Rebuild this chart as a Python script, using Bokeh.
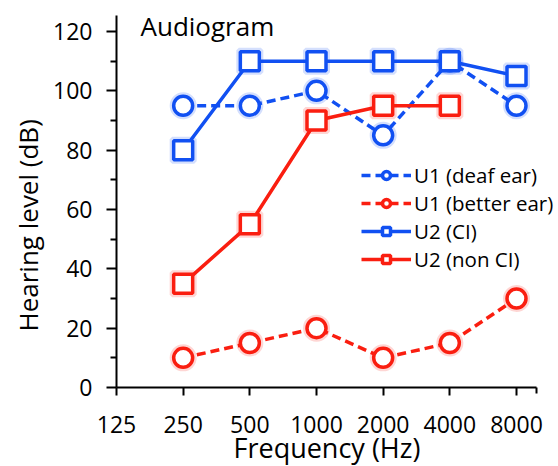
from bokeh.plotting import figure
from bokeh.models import FixedTicker, Legend, LegendItem, Range1d, Label, Title
from bokeh.embed import file_html
from bokeh.resources import INLINE

freqs = [250, 500, 1000, 2000, 4000, 8000]
tick_freqs = [125, 250, 500, 1000, 2000, 4000, 8000]
u1_deaf = [95, 95, 100, 85, 110, 95]
u1_better = [10, 15, 20, 10, 15, 30]
u2_ci = [80, 110, 110, 110, 110, 105]
freqs_nonci = [250, 500, 1000, 2000, 4000]
u2_nonci = [35, 55, 90, 95, 95]
y_ticks = [0, 20, 40, 60, 80, 100, 120]
y_minor = [10, 30, 50, 70, 90, 110]

BLUE = "#1150f2"
RED = "#fa1e10"
FONT = "Open Sans"

X_AXIS_END = 125 * 2 ** 6.3
X_RANGE_END = 125 * 2 ** 6.63

p = figure(width=558, height=466, output_backend="svg", toolbar_location=None,
           x_axis_type="log", x_range=Range1d(125, X_RANGE_END),
           y_range=Range1d(0, 125.4),
           min_border_left=116, min_border_right=0, min_border_top=15, min_border_bottom=79)
p.outline_line_color = None
p.xgrid.visible = False
p.ygrid.visible = False
p.background_fill_color = "white"
p.border_fill_color = "white"

p.xaxis.ticker = FixedTicker(ticks=tick_freqs, minor_ticks=[X_AXIS_END])
p.xaxis.bounds = (125, X_AXIS_END)
p.xaxis.major_label_overrides = {f: str(f) for f in tick_freqs}
p.yaxis.ticker = FixedTicker(ticks=y_ticks, minor_ticks=y_minor)

for ax in (p.xaxis, p.yaxis):
    ax.axis_line_width = 2
    ax.axis_line_color = "black"
    ax.major_tick_line_width = 2
    ax.minor_tick_line_width = 2
    ax.major_tick_line_color = "black"
    ax.minor_tick_line_color = "black"
    ax.major_tick_in = 0
    ax.minor_tick_in = 0
    ax.minor_tick_out = 6
    ax.major_label_text_font = FONT
    ax.major_label_text_font_size = "23px"
    ax.major_label_text_color = "black"

p.xaxis.major_tick_out = 8
p.yaxis.major_tick_out = 10
p.xaxis.major_label_standoff = 20
p.yaxis.major_label_standoff = 14

xlab = Title(text="Frequency (Hz)", align="left", offset=117, standoff=-18,
             text_font=FONT, text_font_size="27px", text_font_style="normal",
             text_color="black")
p.add_layout(xlab, "below")
ylab = Title(text="Hearing level (dB)", align="left", offset=56, standoff=9,
             text_font=FONT, text_font_size="26px", text_font_style="normal",
             text_color="black")
p.add_layout(ylab, "left")

DASH = "9 5"
LW = 3.5
MS = 19


def halo(x, y, marker, color):
    p.scatter(x, y, marker=marker, size=MS + 3, line_color=color, fill_color=None,
              line_width=5, line_alpha=0.18)


r1l = p.line(freqs, u1_deaf, color=BLUE, line_width=LW, line_dash=DASH)
halo(freqs, u1_deaf, "circle", BLUE)
r1m = p.scatter(freqs, u1_deaf, marker="circle", size=MS, line_color=BLUE, fill_color="white", line_width=3.5)
r2l = p.line(freqs, u1_better, color=RED, line_width=LW, line_dash=DASH)
halo(freqs, u1_better, "circle", RED)
r2m = p.scatter(freqs, u1_better, marker="circle", size=MS, line_color=RED, fill_color="white", line_width=3.5)
r3l = p.line(freqs, u2_ci, color=BLUE, line_width=LW)
halo(freqs, u2_ci, "square", BLUE)
r3m = p.scatter(freqs, u2_ci, marker="square", size=MS, line_color=BLUE, fill_color="white", line_width=3.5)
r4l = p.line(freqs_nonci, u2_nonci, color=RED, line_width=LW)
halo(freqs_nonci, u2_nonci, "square", RED)
r4m = p.scatter(freqs_nonci, u2_nonci, marker="square", size=MS, line_color=RED, fill_color="white", line_width=3.5)

legend = Legend(items=[
    LegendItem(label="U1 (deaf ear)", renderers=[r1l, r1m]),
    LegendItem(label="U1 (better ear)", renderers=[r2l, r2m]),
    LegendItem(label="U2 (CI)", renderers=[r3l, r3m]),
    LegendItem(label="U2 (non CI)", renderers=[r4l, r4m]),
], location=(245, 114))
legend.background_fill_alpha = 0
legend.border_line_color = None
legend.label_text_font = FONT
legend.label_text_font_size = "20.5px"
legend.label_text_color = "black"
legend.glyph_width = 50
legend.glyph_height = 20
legend.spacing = -6
legend.padding = 4
legend.label_standoff = 3
legend.margin = 0
p.add_layout(legend, "center")

title = Label(x=24, y=362, x_units="screen", y_units="screen", text="Audiogram",
              text_font=FONT, text_font_size="26px", text_color="black",
              text_baseline="alphabetic")
p.add_layout(title)

open("out.html", "w").write(file_html(p, INLINE))
